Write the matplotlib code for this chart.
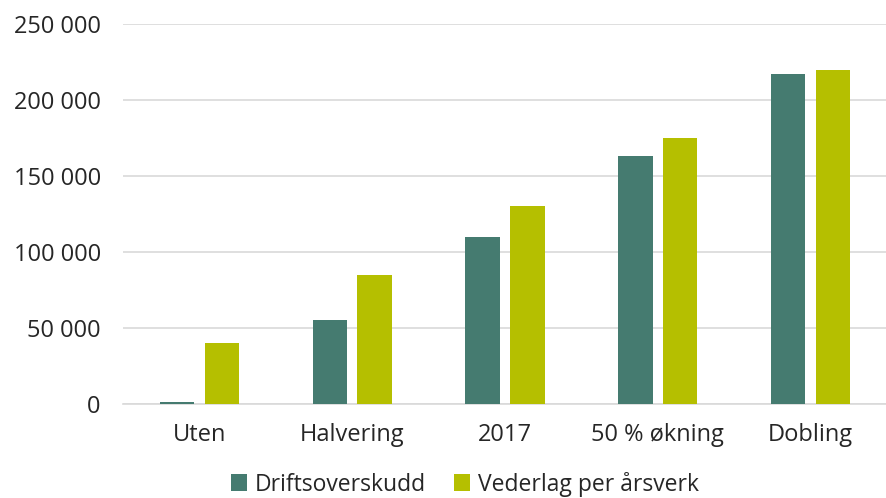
import matplotlib
matplotlib.use("Agg")
import matplotlib.pyplot as plt
import numpy as np
from matplotlib.ticker import FuncFormatter

categories = ["Uten", "Halvering", "2017", "50 % økning", "Dobling"]
driftsoverskudd = [1200, 55000, 110000, 163000, 217000]
vederlag = [40000, 85000, 130000, 175000, 220000]
series_names = ["Driftsoverskudd", "Vederlag per årsverk"]
yticks = [0, 50000, 100000, 150000, 200000, 250000]

plt.rcParams['font.family'] = ['Open Sans', 'DejaVu Sans']

fig = plt.figure(figsize=(8.87, 4.98), dpi=100)
ax = fig.add_axes([123/887, 1-404/498, 764/887, 380/498])

x = np.arange(len(categories))
w = 0.225
off = 0.147
c1 = "#457B70"
c2 = "#B5BF00"
ax.bar(x - off, driftsoverskudd, w, color=c1, label=series_names[0], zorder=3)
ax.bar(x + off, vederlag, w, color=c2, label=series_names[1], zorder=3)

ax.set_xlim(-0.5, len(categories) - 0.5)
ax.set_ylim(0, 250000)
ax.set_yticks(yticks)
ax.yaxis.set_major_formatter(FuncFormatter(lambda v, p: f"{int(v):,}".replace(",", " ")))
ax.yaxis.grid(True, color="#D9D9D9", linewidth=1.2, zorder=0)
ax.set_axisbelow(True)
for s in ["top", "right", "left"]:
    ax.spines[s].set_visible(False)
ax.spines["bottom"].set_color("#D9D9D9")
ax.spines["bottom"].set_linewidth(1.2)
ax.tick_params(axis="both", length=0, labelsize=17, colors="#262626")
ax.tick_params(axis="y", pad=16)
ax.tick_params(axis="x", pad=14)
ax.set_xticks(x)
ax.set_xticklabels(categories)

fig.legend(loc="center", bbox_to_anchor=(465/887, 1-484/498), ncol=2, frameon=False,
           fontsize=16.5, handlelength=0.7, handleheight=0.7, handletextpad=0.35,
           columnspacing=1.2, labelcolor="#262626", borderpad=0.1)

fig.savefig("out.png", dpi=100)
